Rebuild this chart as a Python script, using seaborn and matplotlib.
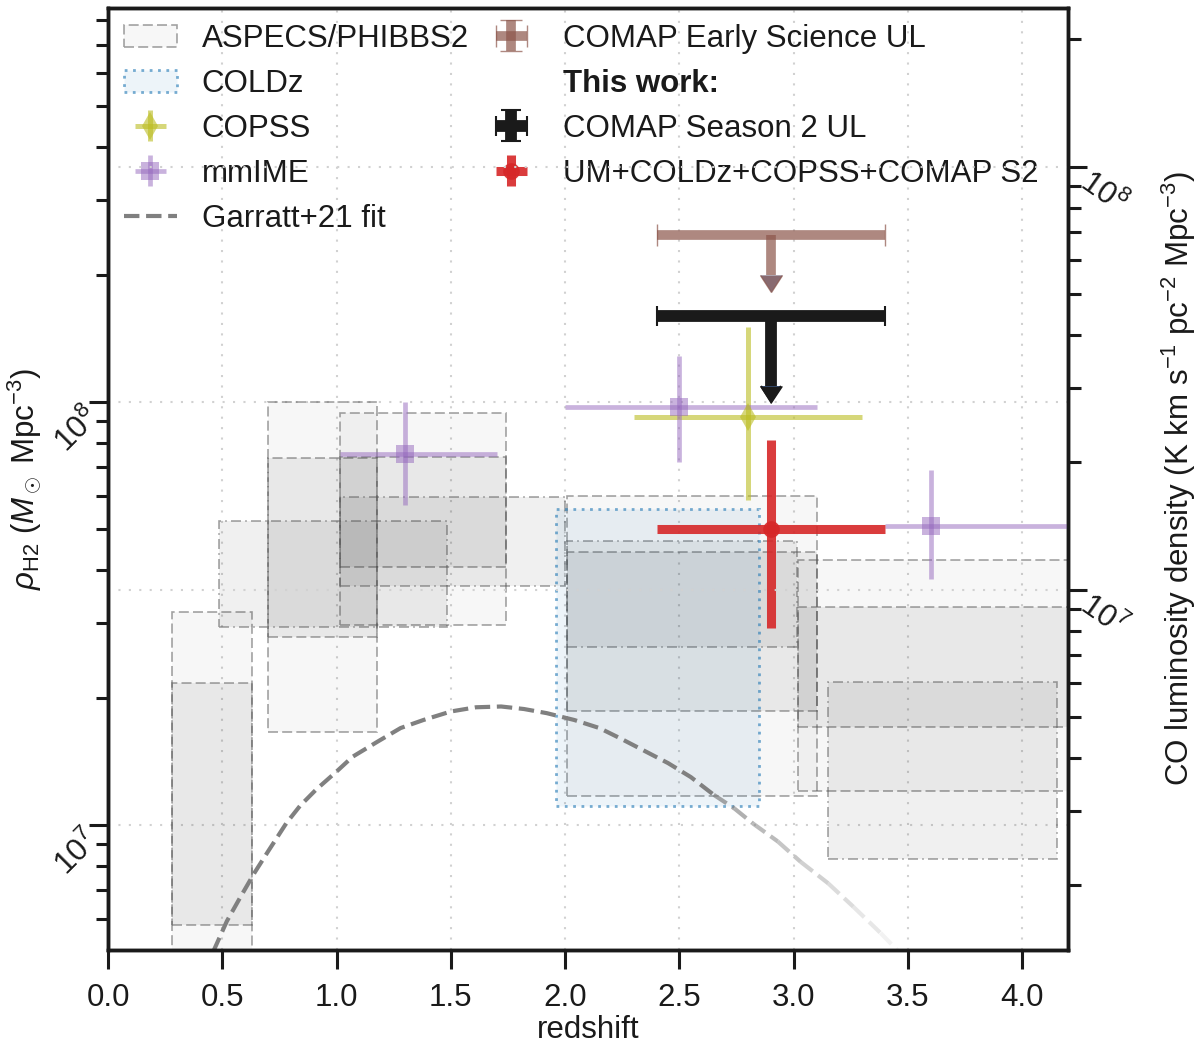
import numpy as np
import matplotlib
matplotlib.use('Agg')
import matplotlib.pyplot as plt
from matplotlib.patches import Rectangle
from matplotlib.lines import Line2D
from matplotlib.path import Path
import seaborn as sns

# conversion rho_H2 = alpha_CO * L'_CO density
alpha_co = 3.6

# ASPECS boxes: redshift bins, outer and inner ranges of rho_H2
aspecs_zlo = [0.28, 0.70, 1.015, 2.01, 3.02]
aspecs_zhi = [0.63, 1.175, 1.74, 3.10, 4.48]
aspecs_outer_lo = [4.0e6, 1.66e7, 2.97e7, 1.17e7, 1.20e7]
aspecs_outer_hi = [3.19e7, 1.00e8, 9.42e7, 6.00e7, 4.23e7]
aspecs_inner_lo = [5.8e6, 2.78e7, 4.07e7, 1.86e7, 1.70e7]
aspecs_inner_hi = [2.16e7, 7.37e7, 7.41e7, 4.42e7, 3.28e7]

# PHIBBS2 boxes
phibbs_zlo = [0.485, 1.015, 2.01, 3.15]
phibbs_zhi = [1.485, 2.00, 3.015, 4.15]
phibbs_lo = [2.94e7, 3.67e7, 2.63e7, 8.3e6]
phibbs_hi = [5.23e7, 5.96e7, 4.69e7, 2.18e7]

# COLDz box
coldz_z = [1.96, 2.85]
coldz_rho = [1.11e7, 5.58e7]

# COPSS
copss_z, copss_zlo, copss_zhi = [2.8], [2.3], [3.3]
copss_rho, copss_lo, copss_hi = [9.2e7], [5.86e7], [1.506e8]

# mmIME
mmime_z = [1.3, 2.5, 3.6]
mmime_zlo = [1.015, 2.0, 3.4]
mmime_zhi = [1.70, 3.10, 4.3]
mmime_rho = [7.53e7, 9.72e7, 5.1e7]
mmime_lo = [5.71e7, 7.22e7, 3.82e7]
mmime_hi = [1.0e8, 1.287e8, 6.9e7]

# COMAP upper limits and combined constraint
comap_z, comap_zlo, comap_zhi = [2.9], [2.4], [3.4]
es_ul, es_arrow = [2.48e8], [2.0e8]
s2_ul, s2_arrow = [1.6e8], [1.09e8]
um_rho, um_lo, um_hi = [5.0e7], [2.92e7], [8.13e7]

# Garratt+21 fit
garratt_z = [0.46, 0.52, 0.58, 0.64, 0.70, 0.78, 0.84, 0.91, 1.00, 1.07, 1.18,
             1.28, 1.38, 1.50, 1.61, 1.72, 1.82, 1.92, 2.04, 2.15, 2.24, 2.34,
             2.45, 2.55, 2.65, 2.74, 2.82, 2.93, 3.03, 3.15, 3.26, 3.38, 3.46]
garratt_rho = [5.01e6, 5.92e6, 6.76e6, 7.69e6, 8.65e6, 1.009e7, 1.109e7, 1.211e7,
               1.337e7, 1.449e7, 1.574e7, 1.694e7, 1.770e7, 1.854e7, 1.897e7,
               1.905e7, 1.879e7, 1.837e7, 1.770e7, 1.694e7, 1.603e7, 1.503e7,
               1.400e7, 1.297e7, 1.178e7, 1.094e7, 1.009e7, 9.14e6, 8.18e6,
               7.28e6, 6.41e6, 5.55e6, 5.01e6]
fade_from = 24

sns.set_theme(style='ticks')
plt.rcParams['font.family'] = ['Liberation Sans', 'DejaVu Sans']
plt.rcParams['mathtext.fontset'] = 'custom'
plt.rcParams['mathtext.rm'] = 'Liberation Sans'
plt.rcParams['mathtext.it'] = 'Liberation Sans:italic'
plt.rcParams['mathtext.bf'] = 'Liberation Sans:bold'
for key in ['text.color', 'axes.labelcolor', 'xtick.color', 'ytick.color', 'axes.edgecolor']:
    plt.rcParams[key] = 'black'

fs = 22.5
fig = plt.figure(figsize=(12, 10.43), dpi=100)
ax = fig.add_axes([108 / 1200, 1 - 950 / 1043, 960 / 1200, 942 / 1043])
ax.set_yscale('log')

dash = (0, (6, 2.5))
dashdot = (0, (6, 2.5, 1, 2.5))
edge = (0.35, 0.35, 0.35, 0.55)

# boxes
aspecs_handle = None
for i in range(len(aspecs_zlo)):
    w = aspecs_zhi[i] - aspecs_zlo[i]
    p = Rectangle((aspecs_zlo[i], aspecs_outer_lo[i]), w, aspecs_outer_hi[i] - aspecs_outer_lo[i],
                  facecolor=(0, 0, 0, 0.03), edgecolor=edge, ls=dash, lw=1.2, zorder=1)
    ax.add_patch(p)
    if aspecs_handle is None:
        aspecs_handle = p
    ax.add_patch(Rectangle((aspecs_zlo[i], aspecs_inner_lo[i]), w, aspecs_inner_hi[i] - aspecs_inner_lo[i],
                           facecolor=(0, 0, 0, 0.06), edgecolor=edge, ls=dash, lw=1.2, zorder=1))
for i in range(len(phibbs_zlo)):
    ax.add_patch(Rectangle((phibbs_zlo[i], phibbs_lo[i]), phibbs_zhi[i] - phibbs_zlo[i],
                           phibbs_hi[i] - phibbs_lo[i], facecolor=(0, 0, 0, 0.06),
                           edgecolor=edge, ls=dashdot, lw=1.2, zorder=1))
blue = sns.color_palette('tab10')[0]
coldz_handle = Rectangle((coldz_z[0], coldz_rho[0]), coldz_z[1] - coldz_z[0], coldz_rho[1] - coldz_rho[0],
                         facecolor=(*blue, 0.08), edgecolor=(*blue, 0.6), ls=(0, (1, 2)), lw=2.0, zorder=1.5)
ax.add_patch(coldz_handle)

# Garratt+21 fit
sns.lineplot(x=garratt_z[:fade_from + 1], y=garratt_rho[:fade_from + 1], ax=ax, color='gray',
             ls='--', lw=3, zorder=2.5, sort=False)
fit_handle = Line2D([], [], color='gray', ls='--', lw=3)
fades = np.linspace(0.7, 0.1, len(garratt_z) - fade_from - 1)
for k, a in enumerate(fades):
    j = fade_from + k
    ax.plot(garratt_z[j:j + 2], garratt_rho[j:j + 2], color='gray', ls='--', lw=3, alpha=a, zorder=2.5)

# COPSS
copss_eb = ax.errorbar(copss_z, copss_rho,
                       xerr=[np.subtract(copss_z, copss_zlo), np.subtract(copss_zhi, copss_z)],
                       yerr=[np.subtract(copss_rho, copss_lo), np.subtract(copss_hi, copss_rho)],
                       fmt='d', color='tab:olive', alpha=0.6, ms=14, mew=0, elinewidth=3.6,
                       capsize=0, zorder=4)
# mmIME
mmime_eb = ax.errorbar(mmime_z, mmime_rho,
                       xerr=[np.subtract(mmime_z, mmime_zlo), np.subtract(mmime_zhi, mmime_z)],
                       yerr=[np.subtract(mmime_rho, mmime_lo), np.subtract(mmime_hi, mmime_rho)],
                       fmt='s', color='tab:purple', alpha=0.5, ms=13, mew=0, elinewidth=3.4,
                       capsize=0, zorder=4)

# upper limits: bar + shaft from errorbar, filled arrow head drawn as marker
head = Path([(-1, 0), (0, -1.5), (1, 0), (-1, 0)])
xe = [np.subtract(comap_z, comap_zlo), np.subtract(comap_zhi, comap_z)]
es_eb = ax.errorbar(comap_z, es_ul, xerr=xe, yerr=np.subtract(es_ul, es_arrow), uplims=True,
                    fmt='none', ecolor='tab:brown', alpha=0.7, elinewidth=7, capsize=8,
                    capthick=1, zorder=5)
es_eb.lines[1][-1].set_visible(False)
ax.plot(comap_z, es_arrow, ls='none', marker=head, ms=24, color='tab:brown', alpha=0.7,
        mew=0, zorder=5)
s2_eb = ax.errorbar(comap_z, s2_ul, xerr=xe, yerr=np.subtract(s2_ul, s2_arrow), uplims=True,
                    fmt='none', ecolor='k', elinewidth=8.5, capsize=7.5, capthick=1.5, zorder=6)
s2_eb.lines[1][-1].set_visible(False)
ax.plot(comap_z, s2_arrow, ls='none', marker=head, ms=25, color='k', mew=0, zorder=6)
um_eb = ax.errorbar(comap_z, um_rho, xerr=xe,
                    yerr=[np.subtract(um_rho, um_lo), np.subtract(um_hi, um_rho)],
                    fmt='o', color='tab:red', alpha=0.9, ms=12, mew=0, elinewidth=6.5,
                    capsize=11, capthick=1, zorder=6)

ax.set_xlim(0, 4.2)
ylo, yhi = 5.06e6, 8.54e8
ax.set_ylim(ylo, yhi)

ax2 = ax.twinx()
ax2.set_yscale('log')
ax2.set_ylim(ylo / alpha_co, yhi / alpha_co)

# grid
ax.grid(True, which='major', ls=(0, (1, 4)), color='0.82', lw=1.5)
ax2.grid(True, which='major', axis='y', ls=(0, (1, 4)), color='0.82', lw=1.5)

for a in (ax, ax2):
    for s in a.spines.values():
        s.set_linewidth(2.5)
        s.set_color('k')
ax.tick_params(axis='x', which='major', length=13.5, width=2.2, labelsize=fs, pad=10,
               color='k', labelcolor='k', top=False, bottom=True, direction='out')
ax.tick_params(axis='y', which='major', length=13.5, width=2.2, labelsize=fs, pad=4,
               color='k', labelcolor='k', right=False, left=True, direction='out')
ax.tick_params(axis='y', which='minor', length=8.5, width=2.2, color='k', right=False,
               left=True, direction='out')
ax2.tick_params(axis='y', which='major', length=13.5, width=2.2, labelsize=fs, pad=4,
                color='k', labelcolor='k', right=True, left=False, direction='out')
ax2.tick_params(axis='y', which='minor', length=9, width=2.2, color='k', right=True,
                left=False, direction='out')
ax.set_yticks([1e7, 1e8])
ax2.set_yticks([1e7, 1e8])
ax.set_ylim(ylo, yhi)
ax2.set_ylim(ylo / alpha_co, yhi / alpha_co)
for t in ax.get_yticklabels():
    t.set(rotation=45, rotation_mode='anchor', ha='right', va='top')
for t in ax2.get_yticklabels():
    t.set(rotation=-35, rotation_mode='anchor', ha='left', va='top')

ax.set_xlabel('redshift', fontsize=fs, labelpad=2, color='k')
ax.set_ylabel(r'$\rho_{\rm H2}$ ($M_\odot$ Mpc$^{-3}$)', fontsize=fs, labelpad=4, color='k')
ax2.set_ylabel(r'CO luminosity density (K km s$^{-1}$ pc$^{-2}$ Mpc$^{-3}$)', fontsize=fs,
               labelpad=20, color='k')

blank = Line2D([], [], ls='none')
handles = [aspecs_handle, coldz_handle, copss_eb, mmime_eb, fit_handle,
           es_eb, blank, s2_eb, um_eb]
labels = ['ASPECS/PHIBBS2', 'COLDz', 'COPSS', 'mmIME', 'Garratt+21 fit',
          'COMAP Early Science UL', 'This work:', 'COMAP Season 2 UL',
          'UM+COLDz+COPSS+COMAP S2']
leg = ax.legend(handles, labels, loc='upper left', ncol=2, frameon=False, fontsize=fs,
                handlelength=1.7, handletextpad=0.8, columnspacing=0.5,
                borderaxespad=0.1, labelspacing=0.48)
for t in leg.get_texts():
    t.set_color('k')
leg.get_texts()[6].set_fontweight('bold')
leg.set_zorder(10)

fig.savefig('out.png', dpi=100)
